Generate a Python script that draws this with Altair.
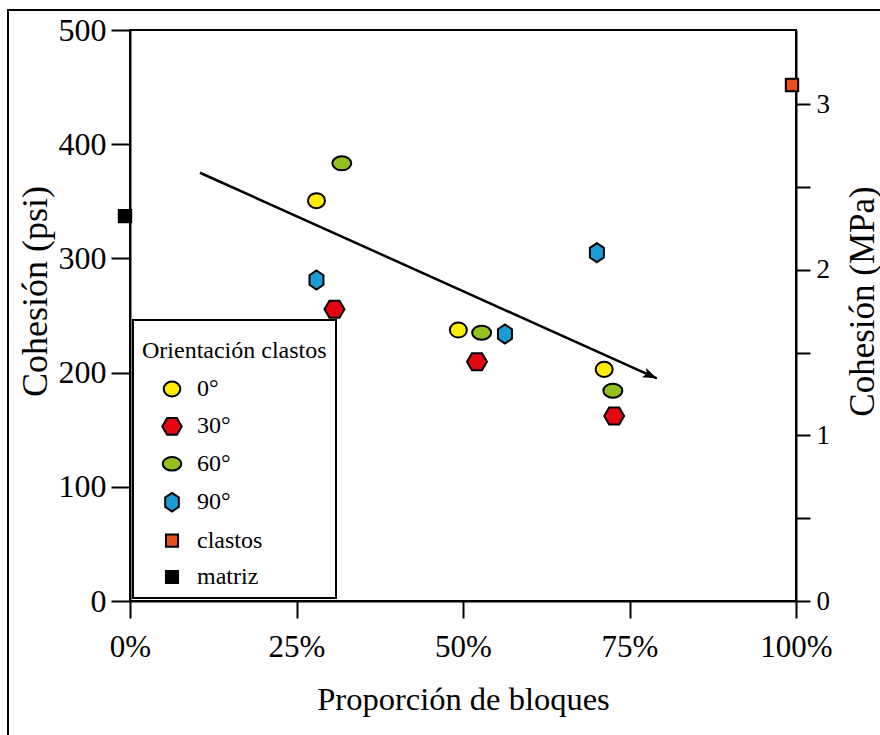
import math

import altair as alt
import pandas as pd

FONT = "Liberation Serif"

# Proporción de bloques (%) and cohesión (psi) for each clast orientation
series_names = ["0°", "30°", "60°", "90°", "clastos", "matriz"]
x_0 = [28.0, 49.3, 71.2]
y_0 = [350.5, 237.3, 202.9]
x_30 = [30.7, 52.1, 72.7]
y_30 = [255.4, 209.5, 162.0]
x_60 = [31.8, 52.8, 72.5]
y_60 = [383.3, 235.0, 184.2]
x_90 = [28.0, 56.3, 70.1]
y_90 = [281.1, 233.8, 305.0]
x_clastos = [99.4]
y_clastos = [451.8]
x_matriz = [-0.75]
y_matriz = [337.0]

# trend arrow (start, end)
trend_x = [10.5, 79.1]
trend_y = [375.0, 195.0]

x_ticks = [0, 25, 50, 75, 100]
psi_ticks = [0, 100, 200, 300, 400, 500]
mpa_ticks = [0, 0.5, 1, 1.5, 2, 2.5, 3]
PSI_PER_MPA = 145.038
PSI_MAX = 500

fill_colors = ["#FFED00", "#E30613", "#95C11F", "#1D9BD7", "#E84E1B", "#000000"]

# marker outlines in unit coordinates
shape_paths = [
    "M -0.85 0 A 0.85 0.76 0 1 0 0.85 0 A 0.85 0.76 0 1 0 -0.85 0 Z",        # circle
    "M -1 0 L -0.5 -0.85 L 0.5 -0.85 L 1 0 L 0.5 0.85 L -0.5 0.85 Z",         # flat hexagon
    "M -0.95 0 A 0.95 0.7 0 1 0 0.95 0 A 0.95 0.7 0 1 0 -0.95 0 Z",          # wide ellipse
    "M 0 -0.95 L 0.7 -0.48 L 0.7 0.48 L 0 0.95 L -0.7 0.48 L -0.7 -0.48 Z",   # tall hexagon
    "M -0.62 -0.62 L 0.62 -0.62 L 0.62 0.62 L -0.62 0.62 Z",                  # square
    "M -0.62 -0.62 L 0.62 -0.62 L 0.62 0.62 L -0.62 0.62 Z",                  # square
]
ARROW_HEAD = "M 0 0 L -1 -0.36 L -0.78 0 L -1 0.36 Z"

W, H = 666, 571

rows = []
for name, xs, ys in [
    ("0°", x_0, y_0),
    ("30°", x_30, y_30),
    ("60°", x_60, y_60),
    ("90°", x_90, y_90),
    ("clastos", x_clastos, y_clastos),
    ("matriz", x_matriz, y_matriz),
]:
    for xv, yv in zip(xs, ys):
        rows.append({"serie": name, "x": xv, "psi": yv, "mpa": yv / PSI_PER_MPA})
points_df = pd.DataFrame(rows)

trend_df = pd.DataFrame({"x": trend_x, "psi": trend_y})
head_df = trend_df.tail(1)
# arrowhead direction in screen space
dx = (trend_x[1] - trend_x[0]) * W / 100
dy = (trend_y[0] - trend_y[1]) * H / PSI_MAX
head_angle = math.degrees(math.atan2(dy, dx))

x_scale = alt.Scale(domain=[0, 100], nice=False)
psi_scale = alt.Scale(domain=[0, PSI_MAX], nice=False)

x_axis = alt.Axis(
    values=x_ticks,
    labelExpr="datum.value + '%'",
    labelFlush=False,
    title="Proporción de bloques",
    tickSize=17,
    labelPadding=14,
    labelFontSize=31,
    titleFontSize=32.5,
    titleY=108,
    titleBaseline="alphabetic",
    grid=False,
)
left_axis = alt.Axis(
    values=psi_ticks,
    labelFlush=False,
    title="Cohesión (psi)",
    tickSize=19,
    labelPadding=5,
    labelFontSize=32,
    titleFontSize=36,
    titleX=-84,
    titleY=261,
    titleAngle=270,
    titleAlign="center",
    titleBaseline="alphabetic",
    grid=False,
)
right_axis = alt.Axis(
    orient="right",
    values=mpa_ticks,
    labelFlush=False,
    labelExpr="datum.value % 1 === 0 ? format(datum.value, 'd') : ''",
    title="Cohesión (MPa)",
    tickSize=14,
    labelPadding=6,
    labelFontSize=27,
    titleFontSize=35,
    titleX=77,
    titleY=271,
    titleAngle=270,
    titleAlign="center",
    titleBaseline="alphabetic",
    grid=False,
)

legend = alt.Legend(
    # leading empty line only nudges the title down inside the box
    title=["", "Orientación clastos"],
    titleLineHeight=10,
    titleLimit=400,
    labelLimit=300,
    orient="none",
    legendX=3,
    legendY=290,
    padding=9,
    strokeColor="black",
    symbolSize=380,
    symbolStrokeColor="black",
    symbolStrokeWidth=2,
    symbolOffset=18,
    labelOffset=13,
    rowPadding=12.4,
    titlePadding=14,
    labelFont=FONT,
    labelFontSize=24,
    labelColor="black",
    titleFont=FONT,
    titleFontSize=24,
    titleFontWeight="normal",
    titleColor="black",
)

x_enc = alt.X("x:Q", scale=x_scale, axis=x_axis)
y_enc = alt.Y("psi:Q", scale=psi_scale, axis=left_axis)

points = alt.Chart(points_df).mark_point(
    filled=True, size=400, stroke="black", strokeWidth=2, opacity=1
).encode(
    x=x_enc,
    y=y_enc,
    color=alt.Color(
        "serie:N",
        scale=alt.Scale(domain=series_names, range=fill_colors),
        legend=legend,
    ),
    shape=alt.Shape(
        "serie:N",
        scale=alt.Scale(domain=series_names, range=shape_paths),
        legend=legend,
    ),
)

trend_line = alt.Chart(trend_df).mark_line(color="black", strokeWidth=2.5).encode(
    x=x_enc, y=y_enc
)

trend_head = alt.Chart(head_df).mark_point(
    shape=ARROW_HEAD, filled=True, color="black", size=784, opacity=1, angle=head_angle
).encode(x=x_enc, y=y_enc)

# outer figure border (left and top edges)
frame_df = pd.DataFrame({"k": [0]})
frame_left = alt.Chart(frame_df).mark_rule(color="black", strokeWidth=2).encode(
    x=alt.value(-122), y=alt.value(-20), y2=alt.value(720)
)
frame_top = alt.Chart(frame_df).mark_rule(color="black", strokeWidth=2).encode(
    y=alt.value(-20), x=alt.value(-123), x2=alt.value(760)
)

left_layer = alt.layer(points, trend_line, trend_head, frame_left, frame_top)

right_layer = alt.Chart(points_df).mark_point(opacity=0).encode(
    y=alt.Y(
        "mpa:Q",
        scale=alt.Scale(domain=[0, PSI_MAX / PSI_PER_MPA], nice=False),
        axis=right_axis,
    )
)

chart = (
    alt.layer(left_layer, right_layer)
    .resolve_scale(y="independent")
    .properties(
        width=W,
        height=H,
        padding={"left": 130, "top": 30, "right": 84, "bottom": 134},
        autosize=alt.AutoSizeParams(type="none"),
        background="white",
    )
    .configure_view(stroke="black", strokeWidth=2)
    .configure_axis(
        domainColor="black",
        domainWidth=2,
        tickColor="black",
        tickWidth=2,
        labelFont=FONT,
        titleFont=FONT,
        labelColor="black",
        titleColor="black",
        titleFontWeight="normal",
    )
    .configure_legend(strokeWidth=2)
)

chart.save("out.html", embed_options={"renderer": "svg", "actions": False})
